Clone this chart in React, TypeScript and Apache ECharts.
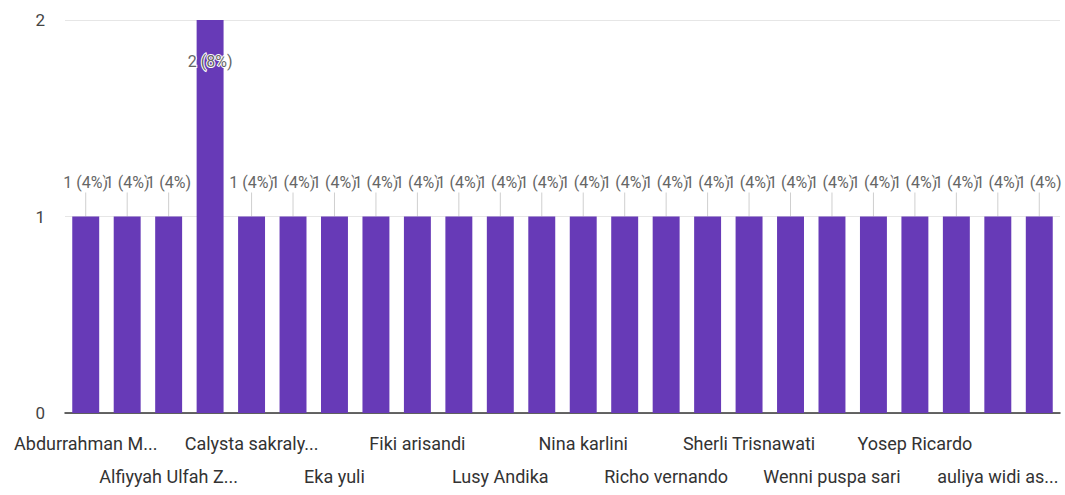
import React, { useEffect, useRef } from "react";
import * as echarts from "echarts";

const categories = [
  "Abdurrahman M...", "Ahmad Fauzi", "Alfiyyah Ulfah Z...", "Anisa Rahma",
  "Calysta sakraly...", "Dewi Lestari", "Eka yuli", "Fajar Nugroho",
  "Fiki arisandi", "Indah Permata", "Lusy Andika", "Muhammad Rizki",
  "Nina karlini", "Putri Ayu", "Richo vernando", "Rina Wati",
  "Sherli Trisnawati", "Siti Nurhaliza", "Wenni puspa sari", "Wulan Sari",
  "Yosep Ricardo", "Yudi Pratama", "auliya widi as...", "dina"
];
const counts = [1, 1, 1, 2, 1, 1, 1, 1, 1, 1, 1, 1, 1, 1, 1, 1, 1, 1, 1, 1, 1, 1, 1, 1];
const percents = [4, 4, 4, 8, 4, 4, 4, 4, 4, 4, 4, 4, 4, 4, 4, 4, 4, 4, 4, 4, 4, 4, 4, 4];
const yTicks = [0, 1, 2];

export default function App() {
  const ref = useRef<HTMLDivElement>(null);
  useEffect(() => {
    document.body.style.margin = "0";
    const chart = echarts.init(ref.current!, null, { renderer: "svg" });
    const font = "Roboto, Arial, sans-serif";
    const maxV = Math.max(...counts);
    chart.setOption({
      animation: false,
      grid: { left: 65, right: 5, top: 20, bottom: 82, containLabel: false, outerBoundsMode: "none" },
      xAxis: {
        type: "category",
        data: categories,
        axisTick: { show: false },
        axisLine: { lineStyle: { color: "#333", width: 1.5 } },
        axisLabel: {
          interval: 0,
          showMinLabel: true,
          showMaxLabel: true,
          color: "#333",
          fontFamily: font,
          fontSize: 18,
          margin: 14,
          lineHeight: 33,
          formatter: (v: string, i: number) => (i % 2 === 1 ? "" : i % 4 === 2 ? "\n" + v : v),
        },
      },
      yAxis: {
        type: "value",
        min: yTicks[0],
        max: yTicks[yTicks.length - 1],
        interval: 1,
        axisLine: { show: false },
        axisTick: { show: false },
        splitLine: { lineStyle: { color: "#e6e6e6" } },
        axisLabel: { color: "#444", fontFamily: font, fontSize: 17, margin: 20 },
      },
      series: [
        {
          type: "bar",
          barCategoryGap: "35%",
          itemStyle: { color: "#673ab7" },
          data: counts.map((v) => {
            const d: any = { value: v };
            if (v === maxV) {
              d.label = { position: "insideTop", distance: 33 };
            }
            return d;
          }),
          label: {
            show: true,
            position: "top",
            distance: 26,
            color: "#666",
            fontFamily: font,
            fontSize: 16,
            textBorderColor: "#fff",
            textBorderWidth: 2,
            formatter: (p: any) => `${counts[p.dataIndex]} (${percents[p.dataIndex]}%)`,
          },
          z: 2,
        },
        {
          type: "custom",
          data: counts.map((v, i) => [i, v]),
          encode: { x: 0, y: 1 },
          z: 1,
          renderItem: (params: any, api: any) => {
            const v = api.value(1);
            if (v === maxV) return null;
            const p = api.coord([api.value(0), v]);
            return {
              type: "line",
              shape: { x1: p[0], y1: p[1] - 24, x2: p[0], y2: p[1] },
              style: { stroke: "#cfcfcf", lineWidth: 1 },
            };
          },
        },
      ],
    });
    return () => chart.dispose();
  }, []);
  return <div ref={ref} style={{ width: 1065, height: 495 }} />;
}
